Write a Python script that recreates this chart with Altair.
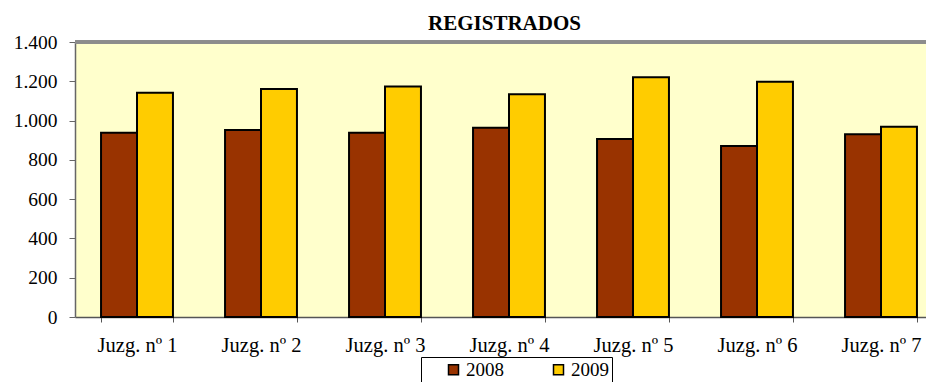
import altair as alt
import pandas as pd

categories = ["Juzg. nº 1", "Juzg. nº 2", "Juzg. nº 3", "Juzg. nº 4", "Juzg. nº 5", "Juzg. nº 6", "Juzg. nº 7"]
years = ["2008", "2009"]
values_2008 = [938, 952, 938, 964, 906, 871, 930]
values_2009 = [1142, 1161, 1173, 1134, 1220, 1198, 969]
y_ticks = [0, 200, 400, 600, 800, 1000, 1200, 1400]
colors = ["#993300", "#FFCC00"]

rows = []
for c, a, b in zip(categories, values_2008, values_2009):
    rows.append({"cat": c, "year": "2008", "value": a})
    rows.append({"cat": c, "year": "2009", "value": b})
df = pd.DataFrame(rows)

FONT = "Liberation Serif"

bars = alt.Chart().mark_bar(stroke="black", strokeWidth=2).encode(
    x=alt.X("cat:N", sort=categories, title=None,
            scale=alt.Scale(range=[0, 868], paddingInner=0.42, paddingOuter=0.21),
            axis=alt.Axis(labelAngle=0, tickBand="extent", labelFont=FONT, labelFontSize=20.5,
                          labelColor="black", labelPadding=13, tickSize=5,
                          domainColor="#555555", tickColor="#555555", domainWidth=1.5)),
    xOffset=alt.XOffset("year:N", scale=alt.Scale(paddingInner=0, paddingOuter=0)),
    y=alt.Y("value:Q", title=None, scale=alt.Scale(domain=[0, 1400], nice=False),
            axis=alt.Axis(values=y_ticks, grid=False, labelFont=FONT, labelFontSize=19.5,
                          labelColor="black", labelPadding=12, tickSize=6,
                          domainColor="#666666", tickColor="#666666", domainWidth=1.5,
                          labelExpr="replace(format(datum.value, ','), ',', '.')")),
    color=alt.Color("year:N", scale=alt.Scale(domain=years, range=colors),
                    legend=alt.Legend(title=None, orient="none", legendX=346, legendY=315,
                                      direction="horizontal", symbolType="square", symbolSize=100,
                                      symbolStrokeColor="black", symbolStrokeWidth=1.5,
                                      labelFont=FONT, labelFontSize=19, labelColor="black",
                                      labelOffset=3, columnPadding=25, padding=3,
                                      symbolOffset=20, strokeColor="black", fillColor="white")),
)

top_border = alt.Chart().mark_rule(color="#8c8c8c", strokeWidth=2.5).encode(
    x=alt.value(0), x2=alt.value(851), y=alt.value(0)
)

chart = alt.layer(bars, top_border, data=df).properties(
    width=851, height=275,
    title=alt.TitleParams("REGISTRADOS", font=FONT, fontSize=21, fontWeight="bold",
                          color="black", anchor="middle", offset=-2, dx=4),
    padding={"left": 67, "top": 34, "right": 0, "bottom": 65},
    autosize="none",
).configure_view(fill="#FFFFCC", strokeWidth=0)

chart.save("out.html", embed_options={"renderer": "svg", "actions": False})
